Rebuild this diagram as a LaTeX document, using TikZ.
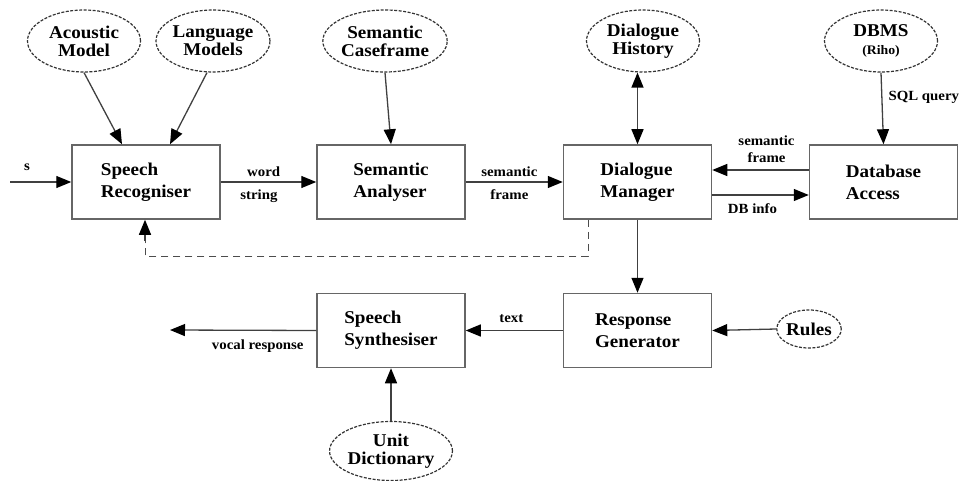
\documentclass[tikz,border=0pt]{standalone}
\usepackage{fontspec}
\setmainfont{Liberation Serif}
\newfontfamily\diagfont[FakeStretch=1.06]{Liberation Serif}
\usetikzlibrary{arrows.meta,shapes.geometric}

\begin{document}
\begin{tikzpicture}[x=1pt,y=-1pt,
  line/.style={draw=black!75, line width=1.3pt},
  arr/.style={line, -{Triangle[length=15pt,width=12pt,color=black]}},
  dblarr/.style={line, {Triangle[length=15pt,width=12pt,color=black]}-{Triangle[length=15pt,width=12pt,color=black]}},
  feedback/.style={draw=black!70, line width=1pt, dash pattern=on 7pt off 5pt},
  block/.style={draw=black!60, line width=1.5pt, minimum width=148pt, minimum height=74pt,
    align=left, inner sep=0pt, font=\diagfont\bfseries\fontsize{18}{22}\selectfont},
  store/.style={ellipse, draw=black!80, line width=1.2pt, dash pattern=on 3pt off 1.5pt,
    minimum width=113pt, minimum height=62pt, align=center, inner sep=0pt,
    font=\diagfont\bfseries\fontsize{18}{18}\selectfont},
  lab/.style={inner sep=0pt, font=\diagfont\bfseries\fontsize{14}{16}\selectfont}
]
\useasboundingbox (0,0) rectangle (968,481);

% processing modules
\node[block] (sr) at (146,182)   {Speech\\Recogniser};
\node[block] (sa) at (391,182)   {Semantic\\Analyser};
\node[block] (dm) at (637.5,182) {Dialogue\\Manager};
\node[block] (da) at (883.5,182) {Database\\Access};
\node[block] (ss) at (391,330.5) {Speech\\Synthesiser};
\node[block] (rg) at (637.5,330.5) {Response\\Generator};

% knowledge sources
\node[store] (am) at (84,41)  {Acoustic\\Model};
\node[store] (lm) at (213,41) {Language\\Models};
\node[store] (sc) at (385,41) {Semantic\\Caseframe};
\node[store] (dh) at (643,41) {Dialogue\\History};
\node[store] (db) at (881,41) {DBMS\\{\fontsize{13}{14}\selectfont(Riho)}};
\node[store, minimum width=62pt, minimum height=38pt] (ru) at (809,329) {Rules};
\node[store, minimum width=112pt, minimum height=59pt] (ud) at (391,451) {Unit\\Dictionary};

% free ends
\coordinate (in)  at (10,182);
\coordinate (out) at (170,330);
\coordinate (fbA) at (588,256);
\coordinate (fbB) at (145,256);

% recogniser inputs
\draw[arr] (am.south) -- ([xshift=-24pt]sr.north);
\draw[arr] ([xshift=-6pt]lm.south) -- ([xshift=24pt]sr.north);
\draw[arr] (in) -- (sr.west);
\node[lab] at (27,167) {s};

% main chain
\draw[arr] (sr.east) -- (sa.west)
  node[lab, pos=0.45, above=5pt] {word}
  node[lab, pos=0.4, below=7pt] {string};
\draw[arr] (sa.east) -- (dm.west)
  node[lab, pos=0.45, above=5pt] {semantic}
  node[lab, pos=0.45, below=7pt] {frame};
\draw[arr] (sc.south) -- (sa.north);
\draw[dblarr] (dh.south -| dm.north) -- (dm.north);

% database link
\draw[arr] (db.south) -- (da.north)
  node[lab, pos=0.35, right=6pt, anchor=west] {SQL query};
\draw[arr] ([yshift=12pt]da.west) -- ([yshift=12pt]dm.east)
  node[lab, midway, above=7pt, xshift=6pt, align=center,
       font=\diagfont\bfseries\fontsize{14}{17}\selectfont] {semantic\\frame};
\draw[arr] ([yshift=-13pt]dm.east) -- ([yshift=-13pt]da.west)
  node[lab, midway, below=8pt, xshift=-8pt] {DB info};

% response path
\draw[arr] (dm.south) -- (rg.north);
\draw[arr] (ru.west) -- (rg.east);
\draw[arr] (rg.west) -- (ss.east)
  node[lab, pos=0.5, above=7pt, xshift=-3pt] {text};
\draw[arr] (ss.west) -- (out)
  node[lab, pos=0.4, below=9pt] {vocal response};
\draw[arr] (ud.north) -- (ss.south);

% feedback from dialogue manager to recogniser
\draw[feedback] (dm.south -| fbA) -- (fbA) -- (fbB) -- ++(0,-16);
\draw[arr] (fbB) ++(0,-15) -- (sr.south -| fbB);
\end{tikzpicture}
\end{document}
